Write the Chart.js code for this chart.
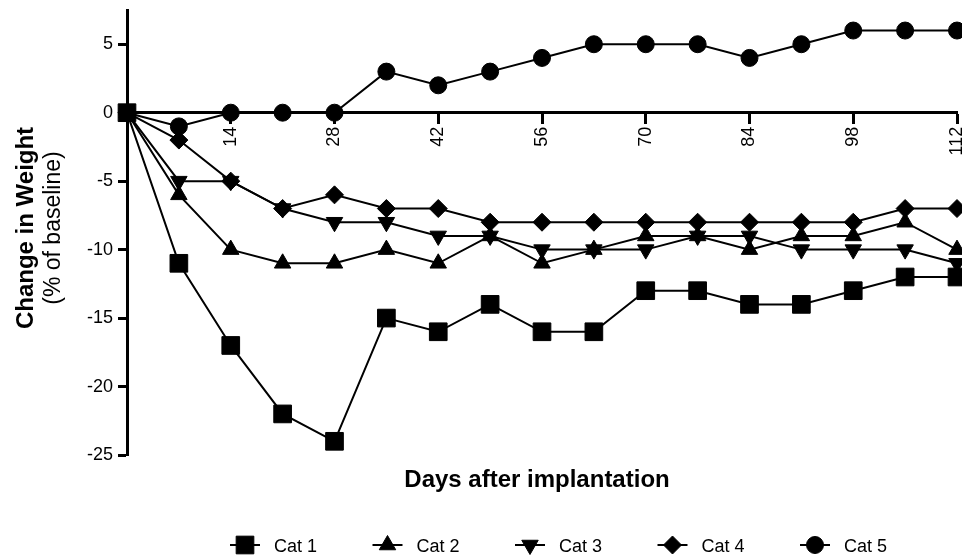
<!DOCTYPE html>
<html>
<head>
<meta charset="utf-8">
<script src="https://cdn.jsdelivr.net/npm/chart.js"></script>
<style>
  html, body { margin: 0; padding: 0; background: #fff; }
  #wrap { width: 962px; height: 555px; }
</style>
</head>
<body>
<div id="wrap"><canvas id="weightChart"></canvas></div>
<script>
// data (change in weight, % of baseline)
const days = [0, 7, 14, 21, 28, 35, 42, 49, 56, 63, 70, 77, 84, 91, 98, 105, 112];
const cat1 = [0, -11, -17, -22, -24, -15, -16, -14, -16, -16, -13, -13, -14, -14, -13, -12, -12];
const cat2 = [0, -6, -10, -11, -11, -10, -11, -9, -11, -10, -9, -9, -10, -9, -9, -8, -10];
const cat3 = [0, -5, -5, -7, -8, -8, -9, -9, -10, -10, -10, -9, -9, -10, -10, -10, -11];
const cat4 = [0, -2, -5, -7, -6, -7, -7, -8, -8, -8, -8, -8, -8, -8, -8, -7, -7];
const cat5 = [0, -1, 0, 0, 0, 3, 2, 3, 4, 5, 5, 5, 4, 5, 6, 6, 6];
const seriesNames = ['Cat 1', 'Cat 2', 'Cat 3', 'Cat 4', 'Cat 5'];
const xTicks = [14, 28, 42, 56, 70, 84, 98, 112];
const yTicks = [-25, -20, -15, -10, -5, 0, 5];
const xTitle = 'Days after implantation';
const yTitle = 'Change in Weight';
const ySubTitle = '(% of baseline)';

const FONT = '"Liberation Sans", Arial, Helvetica, sans-serif';
Chart.defaults.font.family = FONT;
Chart.defaults.color = '#000';

// marker look per series
const markers = [
    { style: 'rect', radius: 12.5, rotation: 0 },
    { style: 'triangle', radius: 9.5, rotation: 0 },
    { style: 'triangle', radius: 9.5, rotation: 180 },
    { style: 'rectRot', radius: 9, rotation: 0 },
    { style: 'circle', radius: 8.5, rotation: 0 }
];

const allSeries = [cat1, cat2, cat3, cat4, cat5];

function toPoints(values) {
    return values.map((v, i) => ({ x: days[i], y: v }));
}

const datasets = allSeries.map((values, i) => ({
    label: seriesNames[i],
    data: toPoints(values),
    borderColor: '#000',
    backgroundColor: '#000',
    borderWidth: 2,
    pointStyle: markers[i].style,
    pointRadius: markers[i].radius,
    pointRotation: markers[i].rotation,
    pointBorderWidth: 1,
    pointBackgroundColor: '#000',
    pointBorderColor: '#000',
    tension: 0,
    clip: false
}));

// same shapes as chart.js uses, for the legend
function drawMarker(ctx, m, x, y) {
    const r = m.radius;
    ctx.beginPath();
    if (m.style === 'circle') {
        ctx.arc(x, y, r, 0, Math.PI * 2);
    } else if (m.style === 'rect') {
        const h = r * Math.SQRT1_2;
        ctx.rect(x - h, y - h, 2 * h, 2 * h);
    } else if (m.style === 'rectRot') {
        ctx.moveTo(x - r, y);
        ctx.lineTo(x, y - r);
        ctx.lineTo(x + r, y);
        ctx.lineTo(x, y + r);
        ctx.closePath();
    } else {
        let a = m.rotation * Math.PI / 180;
        for (let k = 0; k < 3; k++) {
            const px = x + Math.sin(a) * r;
            const py = y - Math.cos(a) * r;
            if (k === 0) ctx.moveTo(px, py); else ctx.lineTo(px, py);
            a += Math.PI * 2 / 3;
        }
        ctx.closePath();
    }
    ctx.fill();
    ctx.stroke();
}

const extras = {
    id: 'extras',
    afterDraw(chart) {
        const ctx = chart.ctx;
        const area = chart.chartArea;
        ctx.save();
        ctx.fillStyle = '#000';
        ctx.strokeStyle = '#000';

        // x axis title
        ctx.font = 'bold 24px ' + FONT;
        ctx.textAlign = 'center';
        ctx.textBaseline = 'alphabetic';
        ctx.fillText(xTitle, (area.left + area.right) / 2 - 5, area.bottom + 32);

        // y axis title, two lines
        const midY = 228;
        ctx.save();
        ctx.translate(33, midY);
        ctx.rotate(-Math.PI / 2);
        ctx.fillText(yTitle, 0, 0);
        ctx.restore();
        ctx.save();
        ctx.font = '23px ' + FONT;
        ctx.translate(60, midY);
        ctx.rotate(-Math.PI / 2);
        ctx.fillText(ySubTitle, 0, 0);
        ctx.restore();

        // legend: line through marker, then label
        ctx.font = '18px ' + FONT;
        ctx.textAlign = 'left';
        const ly = 545;
        seriesNames.forEach((name, i) => {
            const x0 = 230 + i * 142.5;
            ctx.lineWidth = 2;
            ctx.beginPath();
            ctx.moveTo(x0, ly);
            ctx.lineTo(x0 + 30, ly);
            ctx.stroke();
            ctx.lineWidth = 1;
            drawMarker(ctx, markers[i], x0 + 15, ly);
            ctx.fillText(name, x0 + 44, ly + 7);
        });
        ctx.restore();
    }
};

new Chart(document.getElementById('weightChart'), {
    type: 'line',
    data: { datasets: datasets },
    options: {
        responsive: true,
        maintainAspectRatio: false,
        animation: false,
        devicePixelRatio: 1,
        layout: { autoPadding: false, padding: { left: 67, right: 5, top: 10, bottom: 100 } },
        plugins: {
            legend: { display: false },
            tooltip: { enabled: false }
        },
        scales: {
            x: {
                type: 'linear',
                position: { y: 0 },
                min: 0,
                max: 112,
                afterBuildTicks: (s) => { s.ticks = xTicks.map(v => ({ value: v })); },
                afterFit: (s) => { s.paddingLeft = 0; s.paddingRight = 0; s.paddingTop = 0; s.paddingBottom = 0; },
                ticks: {
                    minRotation: 90,
                    maxRotation: 90,
                    autoSkip: false,
                    padding: 4,
                    font: { size: 18 },
                    color: '#000'
                },
                grid: { drawOnChartArea: false, tickLength: 10, tickWidth: 3, color: '#000' },
                border: { display: true, width: 3, color: '#000' }
            },
            y: {
                min: -25,
                max: 7.5,
                afterBuildTicks: (s) => { s.ticks = yTicks.map(v => ({ value: v })); },
                afterFit: (s) => { s.width = 60; s.paddingTop = 0; s.paddingBottom = 0; },
                ticks: { padding: 5, font: { size: 18 }, color: '#000' },
                grid: { drawOnChartArea: false, tickLength: 9, tickWidth: 3, color: '#000' },
                border: { display: true, width: 3, color: '#000' }
            }
        }
    },
    plugins: [extras]
});
</script>
</body>
</html>
